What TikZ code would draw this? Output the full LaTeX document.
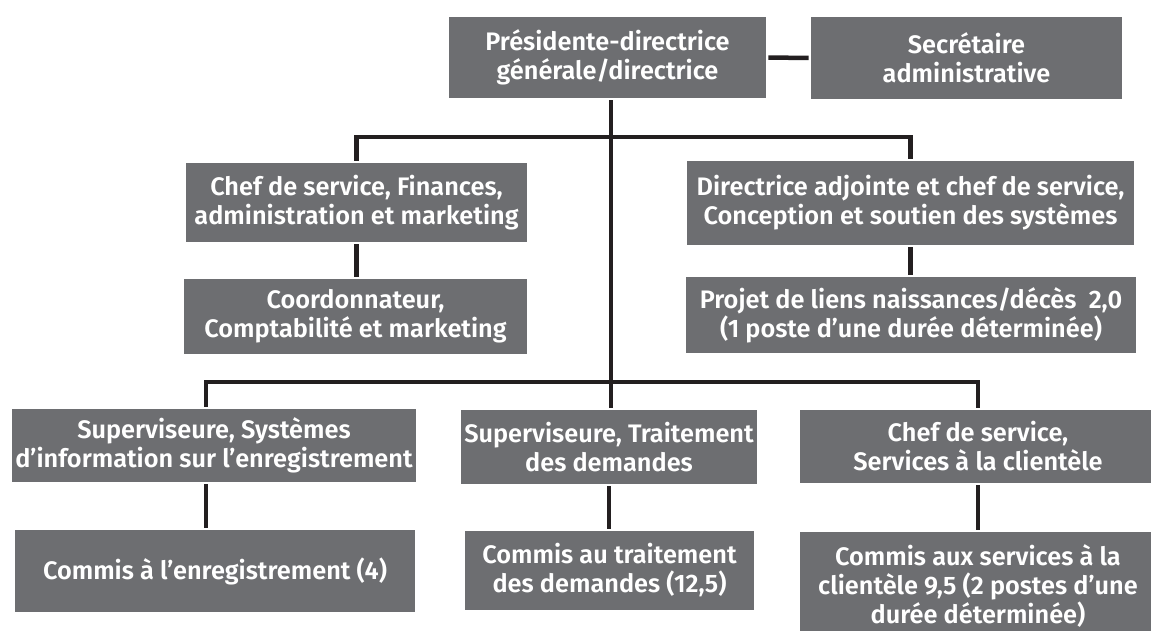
\documentclass[tikz,border=0pt]{standalone}
\usepackage{fontspec}
\setmainfont{Fira Sans}[BoldFont={Fira Sans SemiBold}]
\definecolor{gristitre}{HTML}{6D6E71}
\definecolor{noirlien}{HTML}{231F20}

\begin{document}
\begin{tikzpicture}[x=0.025cm, y=-0.025cm,
    poste/.style={fill=gristitre, text=white, align=center, inner sep=0pt,
        font=\bfseries\fontsize{18}{20.6}\selectfont},
    lien/.style={draw=noirlien, line width=3.2pt, shorten <=0.05cm, shorten >=0.05cm}]
    \useasboundingbox (0,0) rectangle (1151,631);

    % direction
    \node[poste, minimum width=7.925cm, minimum height=2.025cm] (pdg) at (607.5, 57.5)
        {Présidente-directrice\\générale/directrice};
    \node[poste, minimum width=7.775cm, minimum height=2.05cm] (secr) at (966.5, 58)
        {Secrétaire\\administrative};

    \node[poste, minimum width=8.525cm, minimum height=1.975cm] (fin) at (356.5, 202.5)
        {Chef de service, Finances,\\administration et marketing};
    \node[poste, minimum width=8.575cm, minimum height=1.875cm] (coord) at (355.5, 316.5)
        {Coordonnateur,\\Comptabilité et marketing};
    \node[poste, minimum width=11.175cm, minimum height=2.1cm] (adj) at (910.5, 203)
        {Directrice adjointe et chef de service,\\Conception et soutien des systèmes};
    \node[poste, minimum width=11.25cm, minimum height=1.9cm] (projet) at (911, 315)
        {Projet de liens naissances/décès\ \ 2,0\\(1 poste d’une durée déterminée)};

    % services
    \node[poste, minimum width=10.1cm, minimum height=1.825cm] (sie) at (214, 445.5)
        {Superviseure, Systèmes\\d’information sur l’enregistrement};
    \node[poste, minimum width=7.4cm, minimum height=1.85cm] (trait) at (609, 447)
        {Superviseure, Traitement\\des demandes};
    \node[poste, minimum width=8.9cm, minimum height=1.825cm] (client) at (978, 446.5)
        {Chef de service,\\Services à la clientèle};

    \node[poste, minimum width=10cm, minimum height=2.05cm] (cenr) at (215, 571)
        {Commis à l’enregistrement (4)};
    \node[poste, minimum width=7.225cm, minimum height=1.975cm] (ctrait) at (609.5, 570.5)
        {Commis au traitement\\des demandes (12,5)};
    \node[poste, minimum width=8.9cm, minimum height=2.7cm] (cclient) at (978, 586)
        {Commis aux services à la\\clientèle 9,5 (2 postes d’une\\durée déterminée)};

    % liens
    \coordinate (haut) at (611, 137);
    \coordinate (bas) at (611, 382);
    \draw[lien] (pdg.east) -- (secr.west);
    \draw[lien] (pdg.south -| haut) -- (trait.north -| haut);
    \draw[lien] (fin.north) |- (haut) -| (adj.north);
    \draw[lien] ([xshift=-0.2cm]sie.north) |- (bas) -| (client.north);
    \draw[lien] ([xshift=-0.2cm]sie.south) -- ([xshift=-0.2cm]sie.south |- cenr.north);
    \foreach \a/\b in {fin/coord, adj/projet, trait/ctrait, client/cclient}
    {\draw[lien] (\a.south) -- (\a.south |- \b.north);}
\end{tikzpicture}
\end{document}
